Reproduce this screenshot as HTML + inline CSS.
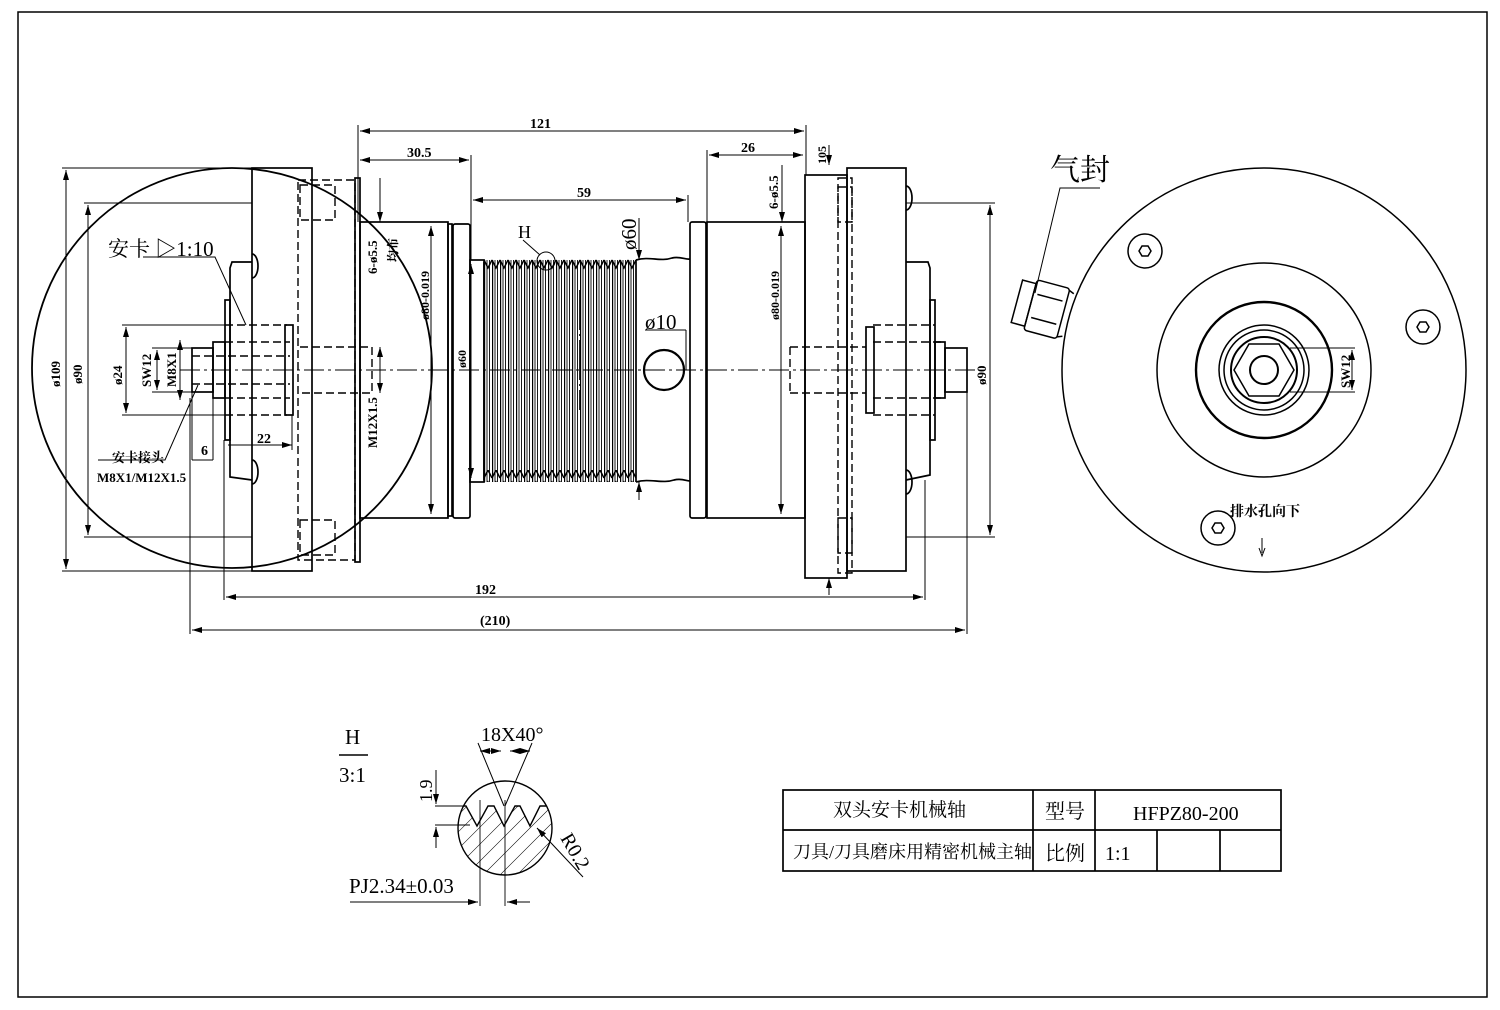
<!DOCTYPE html>
<html><head><meta charset="utf-8"><style>
html,body{margin:0;padding:0;background:#fff}
svg{display:block}
text{font-family:"Liberation Serif","Noto Serif CJK SC","Noto Sans CJK SC",serif;fill:#000}
</style></head><body>
<svg width="1500" height="1010" viewBox="0 0 1500 1010" xmlns="http://www.w3.org/2000/svg">
<defs>
<pattern id="bel" x="484" y="0" width="8" height="400" patternUnits="userSpaceOnUse">
<line x1="0.5" y1="0" x2="0.5" y2="400" stroke="#000" stroke-width="1.4"/>
<line x1="3" y1="0" x2="3" y2="400" stroke="#000" stroke-width="0.9"/>
<line x1="5.5" y1="0" x2="5.5" y2="400" stroke="#000" stroke-width="0.9"/>
</pattern>
<pattern id="zt" x="484" y="258" width="8" height="12" patternUnits="userSpaceOnUse">
<path d="M0,2 L4,10 L8,2" fill="none" stroke="#000" stroke-width="1.5"/>
</pattern>
<pattern id="hatch" width="12" height="12" patternUnits="userSpaceOnUse" patternTransform="rotate(45)">
<line x1="0" y1="0" x2="0" y2="12" stroke="#000" stroke-width="1"/>
</pattern>
<marker id="a" viewBox="0 0 10 6" refX="10" refY="3" markerWidth="10" markerHeight="6" orient="auto-start-reverse" markerUnits="userSpaceOnUse"><path d="M0,0 L10,3 L0,6z" fill="#000"/></marker>
</defs>
<rect x="18" y="12" width="1469" height="985" fill="none" stroke="#000" stroke-width="1.5"/>

<g fill="none" stroke="#000" stroke-width="1.7">
<circle cx="232" cy="368" r="200" stroke-width="1.8"/>
<line x1="180" y1="370" x2="975" y2="370" stroke-width="0.9" stroke-dasharray="20,4,3,4"/>
<rect x="252" y="168" width="60" height="403"/>
<path d="M252,262 L232,262 L230,268 L230,477 L252,480" />
<rect x="225" y="300" width="5" height="140"/>
<rect x="213" y="342" width="12" height="56"/>
<rect x="192" y="348" width="21" height="44"/>
<path d="M252,254 a6,12 0 0 1 0,24 M252,460 a6,12 0 0 1 0,24" />
<g stroke-dasharray="8,4" stroke-width="1.4">
<path d="M225,325 L287,325 M225,415 L287,415 M225,342 L290,342 M225,398 L290,398 M192,356 L290,356 M192,384 L290,384"/>
<rect x="298" y="180" width="57" height="380"/>
<path d="M300,347 L372,347 L372,393 L300,393"/>
<rect x="300" y="185" width="35" height="35"/><rect x="300" y="520" width="35" height="35"/>
</g>
<rect x="285" y="325" width="8" height="90"/>
<rect x="355" y="178" width="5" height="384"/>
<rect x="360" y="222" width="88" height="296"/>
<rect x="448" y="224" width="4" height="292"/>
<rect x="453" y="224" width="17" height="294" rx="2"/>
<rect x="470" y="260" width="14" height="222"/>
<rect x="484" y="260" width="152" height="222" fill="url(#bel)" stroke="none"/>
<rect x="484" y="258" width="152" height="12" fill="url(#zt)" stroke="none"/>
<rect x="484" y="472" width="152" height="12" fill="url(#zt)" stroke="none" transform="translate(0,954) scale(1,-1)"/>
<line x1="484" y1="262" x2="484" y2="480"/>
<line x1="636" y1="260" x2="636" y2="482"/>
<path d="M636,260 C650,256 660,262 672,258 C680,256 686,260 690,259 M636,482 C650,478 662,484 674,480 C682,478 686,481 690,481"/>
<line x1="580" y1="290" x2="580" y2="410" stroke-dasharray="40,4,2,4"/>
<circle cx="664" cy="370" r="20" stroke-width="2.2"/>
<rect x="690" y="222" width="16" height="296" rx="2"/>
<rect x="707" y="222" width="98" height="296"/>
<rect x="805" y="175" width="42" height="403"/>
<rect x="847" y="168" width="59" height="403"/>
<g stroke-dasharray="8,4" stroke-width="1.4">
<rect x="838" y="178" width="14" height="395"/>
<path d="M790,347 L866,347 M790,393 L866,393 M790,347 L790,393"/>
<rect x="838" y="187" width="14" height="35"/><rect x="838" y="518" width="14" height="35"/>
<path d="M873,325 L935,325 M873,415 L935,415 M873,342 L945,342 M873,398 L945,398"/>
</g>
<rect x="866" y="327" width="8" height="86"/>
<path d="M906,262 L928,262 L930,268 L930,475 L906,480"/>
<rect x="930" y="300" width="5" height="140"/>
<rect x="935" y="342" width="10" height="56"/>
<rect x="945" y="348" width="22" height="44"/>
<path d="M906,186 a6,12 0 0 1 0,24 M906,470 a6,12 0 0 1 0,24"/>
</g>

<g stroke="#000" stroke-width="1" fill="none">
<line x1="358" y1="125" x2="358" y2="222"/><line x1="806" y1="125" x2="806" y2="175"/>
<line x1="360" y1="131" x2="804" y2="131" marker-start="url(#a)" marker-end="url(#a)"/>
<line x1="471" y1="155" x2="471" y2="260"/>
<line x1="360" y1="160" x2="469" y2="160" marker-start="url(#a)" marker-end="url(#a)"/>
<line x1="688" y1="195" x2="688" y2="222"/>
<line x1="473" y1="200" x2="686" y2="200" marker-start="url(#a)" marker-end="url(#a)"/>
<line x1="707" y1="150" x2="707" y2="222"/>
<line x1="709" y1="155" x2="803" y2="155" marker-start="url(#a)" marker-end="url(#a)"/>
<line x1="829" y1="145" x2="829" y2="165" marker-end="url(#a)"/>
<line x1="829" y1="595" x2="829" y2="578" marker-end="url(#a)"/>
<line x1="62" y1="168" x2="252" y2="168"/><line x1="62" y1="571" x2="252" y2="571"/>
<line x1="66" y1="170" x2="66" y2="569" marker-start="url(#a)" marker-end="url(#a)"/>
<line x1="84" y1="203" x2="252" y2="203"/><line x1="84" y1="537" x2="252" y2="537"/>
<line x1="88" y1="205" x2="88" y2="535" marker-start="url(#a)" marker-end="url(#a)"/>
<line x1="122" y1="325" x2="225" y2="325"/><line x1="122" y1="415" x2="225" y2="415"/>
<line x1="126" y1="327" x2="126" y2="413" marker-start="url(#a)" marker-end="url(#a)"/>
<line x1="152" y1="348" x2="192" y2="348"/><line x1="152" y1="392" x2="192" y2="392"/>
<line x1="157" y1="350" x2="157" y2="390" marker-start="url(#a)" marker-end="url(#a)"/>
<line x1="180" y1="340" x2="180" y2="400" marker-start="url(#a)" marker-end="url(#a)"/>
<line x1="192" y1="392" x2="192" y2="460"/><line x1="213" y1="398" x2="213" y2="460"/><line x1="192" y1="460" x2="213" y2="460"/>
<line x1="228" y1="445" x2="292" y2="445" marker-end="url(#a)"/><line x1="292" y1="415" x2="292" y2="450"/>
<line x1="224" y1="440" x2="224" y2="600"/>
<line x1="226" y1="597" x2="923" y2="597" marker-start="url(#a)" marker-end="url(#a)"/>
<line x1="925" y1="480" x2="925" y2="600"/>
<line x1="190" y1="398" x2="190" y2="634"/><line x1="967" y1="392" x2="967" y2="634"/>
<line x1="192" y1="630" x2="965" y2="630" marker-start="url(#a)" marker-end="url(#a)"/>
<line x1="431" y1="226" x2="431" y2="514" marker-start="url(#a)" marker-end="url(#a)"/>
<line x1="471" y1="264" x2="471" y2="478" marker-start="url(#a)" marker-end="url(#a)"/>
<line x1="781" y1="226" x2="781" y2="514" marker-start="url(#a)" marker-end="url(#a)"/>
<line x1="906" y1="203" x2="995" y2="203"/><line x1="906" y1="537" x2="995" y2="537"/>
<line x1="990" y1="205" x2="990" y2="535" marker-start="url(#a)" marker-end="url(#a)"/>
<line x1="380" y1="178" x2="380" y2="222" marker-end="url(#a)"/>
<line x1="380" y1="347" x2="380" y2="393" marker-start="url(#a)" marker-end="url(#a)"/>
<line x1="782" y1="165" x2="782" y2="222" marker-end="url(#a)"/>
<line x1="639" y1="218" x2="639" y2="260" marker-end="url(#a)"/>
<line x1="639" y1="500" x2="639" y2="482" marker-end="url(#a)"/>
<line x1="645" y1="330" x2="686" y2="330"/><line x1="686" y1="330" x2="686" y2="370"/>
<path d="M143,257 L215,257 L246,325"/>
<path d="M98,460 L165,460 L198,385"/>
<path d="M523,240 L540,255"/><circle cx="546" cy="261" r="9"/>
</g>

<g font-size="14" font-weight="bold">
<text x="530" y="128">121</text>
<text x="407" y="157">30.5</text>
<text x="577" y="197">59</text>
<text x="741" y="152">26</text>
<text transform="translate(826,164) rotate(-90)" font-size="12">105</text>
<text x="475" y="594">192</text>
<text x="480" y="625">(210)</text>
<text x="257" y="443">22</text>
<text x="201" y="455">6</text>
<text transform="translate(60,387) rotate(-90)" font-size="13">ø109</text>
<text transform="translate(82,384) rotate(-90)" font-size="13">ø90</text>
<text transform="translate(122,385) rotate(-90)" font-size="13">ø24</text>
<text transform="translate(151,387) rotate(-90)" font-size="13">SW12</text>
<text transform="translate(176,387) rotate(-90)" font-size="13">M8X1</text>
<text transform="translate(377,274) rotate(-90)" font-size="13">6-ø5.5</text>
<text transform="translate(397,262) rotate(-90)" font-size="12">均布</text>
<text transform="translate(377,448) rotate(-90)" font-size="13">M12X1.5</text>
<text transform="translate(429,320) rotate(-90)" font-size="12">ø80-0.019</text>
<text transform="translate(466,368) rotate(-90)" font-size="12">ø60</text>
<text transform="translate(779,320) rotate(-90)" font-size="12">ø80-0.019</text>
<text transform="translate(778,209) rotate(-90)" font-size="13">6-ø5.5</text>
<text transform="translate(986,385) rotate(-90)" font-size="13">ø90</text>
<text transform="translate(636,250) rotate(-90)" font-size="21" font-weight="normal">ø60</text>
<text x="645" y="329" font-size="21" font-weight="normal">ø10</text>
<text x="518" y="238" font-size="18" font-weight="normal">H</text>
<text x="108" y="256" font-size="21" font-weight="normal">安卡 ▷1:10</text>
<text x="112" y="462" font-size="13">安卡接头</text>
<text x="97" y="482" font-size="13">M8X1/M12X1.5</text>
</g>

<g fill="none" stroke="#000" stroke-width="1.5">
<circle cx="1264" cy="370" r="202"/>
<circle cx="1264" cy="370" r="107"/>
<circle cx="1264" cy="370" r="68" stroke-width="2.4"/>
<circle cx="1264" cy="370" r="45"/>
<circle cx="1264" cy="370" r="40"/>
<circle cx="1264" cy="370" r="33" stroke-width="2"/>
<polygon points="1294,370 1279,396 1249,396 1234,370 1249,344 1279,344"/>
<circle cx="1264" cy="370" r="14" stroke-width="2"/>
<circle cx="1145" cy="251" r="17"/><polygon points="1151,251 1148,256 1142,256 1139,251 1142,246 1148,246"/>
<circle cx="1423" cy="327" r="17"/><polygon points="1429,327 1426,332 1420,332 1417,327 1420,322 1426,322"/>
<circle cx="1218" cy="528" r="17"/><polygon points="1224,528 1221,533 1215,533 1212,528 1215,523 1221,523"/>
<g transform="translate(1042,308) rotate(15)">
<rect x="-26" y="-22" width="14" height="44"/>
<rect x="-12" y="-26" width="34" height="52" rx="3"/>
<line x1="-8" y1="-12" x2="18" y2="-12"/><line x1="-8" y1="12" x2="18" y2="12"/>
<line x1="22" y1="-24" x2="27" y2="-22"/><line x1="22" y1="24" x2="27" y2="22"/>
</g>
<path d="M1100,188 L1060,188 L1035,293" stroke-width="1"/>
<line x1="1290" y1="348" x2="1355" y2="348" stroke-width="1"/>
<line x1="1290" y1="392" x2="1355" y2="392" stroke-width="1"/>
<line x1="1352" y1="350" x2="1352" y2="390" stroke-width="1" marker-start="url(#a)" marker-end="url(#a)"/>
<path d="M1262,538 L1262,553 M1259,548 L1262,556 L1265,548" stroke-width="1"/>
</g>
<text x="1050" y="180" font-size="30">气封</text>
<text transform="translate(1350,388) rotate(-90)" font-size="13" font-weight="bold">SW12</text>
<text x="1230" y="516" font-size="14" font-weight="bold">排水孔向下</text>

<g fill="none" stroke="#000" stroke-width="1.4">
<line x1="339" y1="755" x2="368" y2="755"/>
<circle cx="505" cy="828" r="47"/>
<clipPath id="cc"><circle cx="505" cy="828" r="47"/></clipPath>
<g clip-path="url(#cc)">
<path d="M455,806 L466,806 L477,826 L488,806 L494,806 L504,826 L515,806 L520,806 L530,826 L540,806 L560,806 L560,880 L455,880 Z" fill="url(#hatch)" stroke="#000"/>
</g>
<path d="M478,743 L504,806 M532,743 L505,806" stroke-width="1"/>
<line x1="480" y1="751" x2="501" y2="751" marker-start="url(#a)" marker-end="url(#a)" stroke-width="1"/>
<line x1="510" y1="751" x2="530" y2="751" marker-start="url(#a)" marker-end="url(#a)" stroke-width="1"/>
<line x1="435" y1="806" x2="466" y2="806" stroke-width="1"/><line x1="435" y1="825" x2="470" y2="825" stroke-width="1"/>
<line x1="436" y1="770" x2="436" y2="804" marker-end="url(#a)" stroke-width="1"/>
<line x1="436" y1="848" x2="436" y2="827" marker-end="url(#a)" stroke-width="1"/>
<line x1="480" y1="800" x2="480" y2="906" stroke-width="0.9"/><line x1="505" y1="800" x2="505" y2="906" stroke-width="0.9"/>
<line x1="350" y1="902" x2="478" y2="902" marker-end="url(#a)" stroke-width="1"/>
<line x1="530" y1="902" x2="507" y2="902" marker-end="url(#a)" stroke-width="1"/>
<line x1="583" y1="877" x2="537" y2="828" marker-end="url(#a)" stroke-width="1"/>
</g>
<text x="345" y="744" font-size="21">H</text>
<text x="339" y="782" font-size="21">3:1</text>
<text x="481" y="741" font-size="20">18X40°</text>
<text transform="translate(432,802) rotate(-90)" font-size="18">1.9</text>
<text x="349" y="893" font-size="21">PJ2.34±0.03</text>
<text transform="translate(560,838) rotate(60)" font-size="20">R0.2</text>

<g fill="none" stroke="#000" stroke-width="1.7">
<rect x="783" y="790" width="498" height="81"/>
<line x1="783" y1="830" x2="1281" y2="830"/>
<line x1="1033" y1="790" x2="1033" y2="871"/>
<line x1="1095" y1="790" x2="1095" y2="871"/>
<line x1="1157" y1="830" x2="1157" y2="871"/>
<line x1="1220" y1="830" x2="1220" y2="871"/>
</g>
<text x="833" y="816" font-size="19">双头安卡机械轴</text>
<text x="1045" y="818" font-size="20">型号</text>
<text x="1133" y="820" font-size="20">HFPZ80-200</text>
<text x="793" y="858" font-size="18">刀具/刀具磨床用精密机械主轴</text>
<text x="1045" y="860" font-size="20">比例</text>
<text x="1105" y="860" font-size="20">1:1</text>
</svg>
</body></html>
